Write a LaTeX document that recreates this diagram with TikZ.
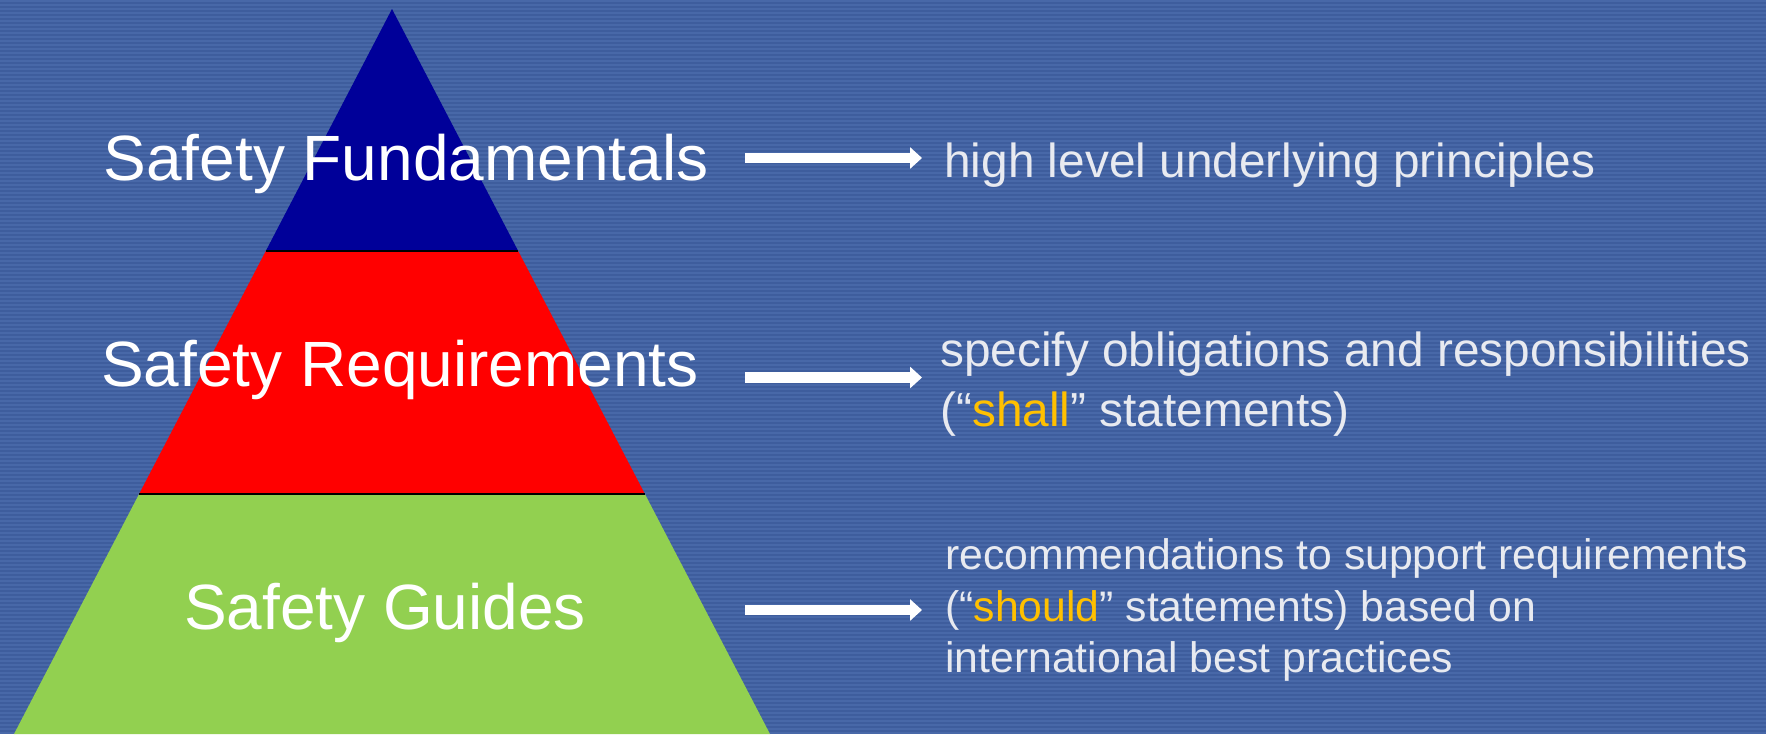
\documentclass[tikz,border=0pt]{standalone}
\usepackage{fontspec}
\setmainfont{Liberation Sans}
\usetikzlibrary{arrows.meta}
\definecolor{bg}{RGB}{62,93,157}
\definecolor{bgl}{RGB}{72,104,168}
\definecolor{topblue}{RGB}{0,0,153}
\definecolor{midred}{RGB}{255,0,0}
\definecolor{lowgreen}{RGB}{146,208,80}
\definecolor{desccol}{RGB}{232,234,240}
\definecolor{hl}{RGB}{255,192,0}
\begin{document}
\begin{tikzpicture}[x=0.5pt,y=-0.5pt,
  levellabel/.style={font=\fontsize{32}{38}\selectfont, text=white, inner sep=0, anchor=base},
  desc/.style={font=\fontsize{23.9}{28}\selectfont, text=desccol, inner sep=0, anchor=base west},
  descsmall/.style={font=\fontsize{21.35}{26}\selectfont, text=desccol, inner sep=0, anchor=base west},
  pointer/.style={white, line width=5.25pt, -{Triangle[length=6pt,width=10.5pt]}},
  layerline/.style={black, line width=0.6pt}]
\useasboundingbox (0,0) rectangle (1766,734);
% background with horizontal stripes
\fill[bg] (0,0) rectangle (1766,734);
\foreach \i in {0,4,...,732} \fill[bgl] (0,\i) rectangle (1766,\i+2);
% pyramid layers
\fill[lowgreen] (139.1,494) -- (644.9,494) -- (770,734) -- (14,734) -- cycle;
\fill[midred] (265.8,251) -- (518.2,251) -- (644.9,494) -- (139.1,494) -- cycle;
\fill[topblue] (392,9) -- (518.2,251) -- (265.8,251) -- cycle;
\draw[layerline] (265.8,251) -- (518.2,251);
\draw[layerline] (139.1,494) -- (644.9,494);
% level labels
\node[levellabel] (fund) at (406,180) {Safety Fundamentals};
\node[levellabel] (req) at (400,386) {Safety Requirements};
\node[levellabel] (guide) at (385,629) {Safety Guides};
% descriptions
\node[desc] (d1) at (944,177) {high level underlying principles};
\node[desc] (d2a) at (940,366) {specify obligations and responsibilities};
\node[desc] (d2b) at (940,426) {(“\textcolor{hl}{shall}” statements)};
\node[descsmall] (d3a) at (945,569) {recommendations to support requirements};
\node[descsmall] (d3b) at (945,621) {(“\textcolor{hl}{should}” statements) based on};
\node[descsmall] (d3c) at (945,672) {international best practices};
% arrows
\coordinate (a1s) at (745,158);
\coordinate (a1e) at (922,158);
\coordinate (a2s) at (745,377.5);
\coordinate (a2e) at (922,377.5);
\coordinate (a3s) at (745,610);
\coordinate (a3e) at (922,610);
\draw[pointer] (a1s) -- (a1e);
\draw[pointer] (a2s) -- (a2e);
\draw[pointer] (a3s) -- (a3e);
\end{tikzpicture}
\end{document}
